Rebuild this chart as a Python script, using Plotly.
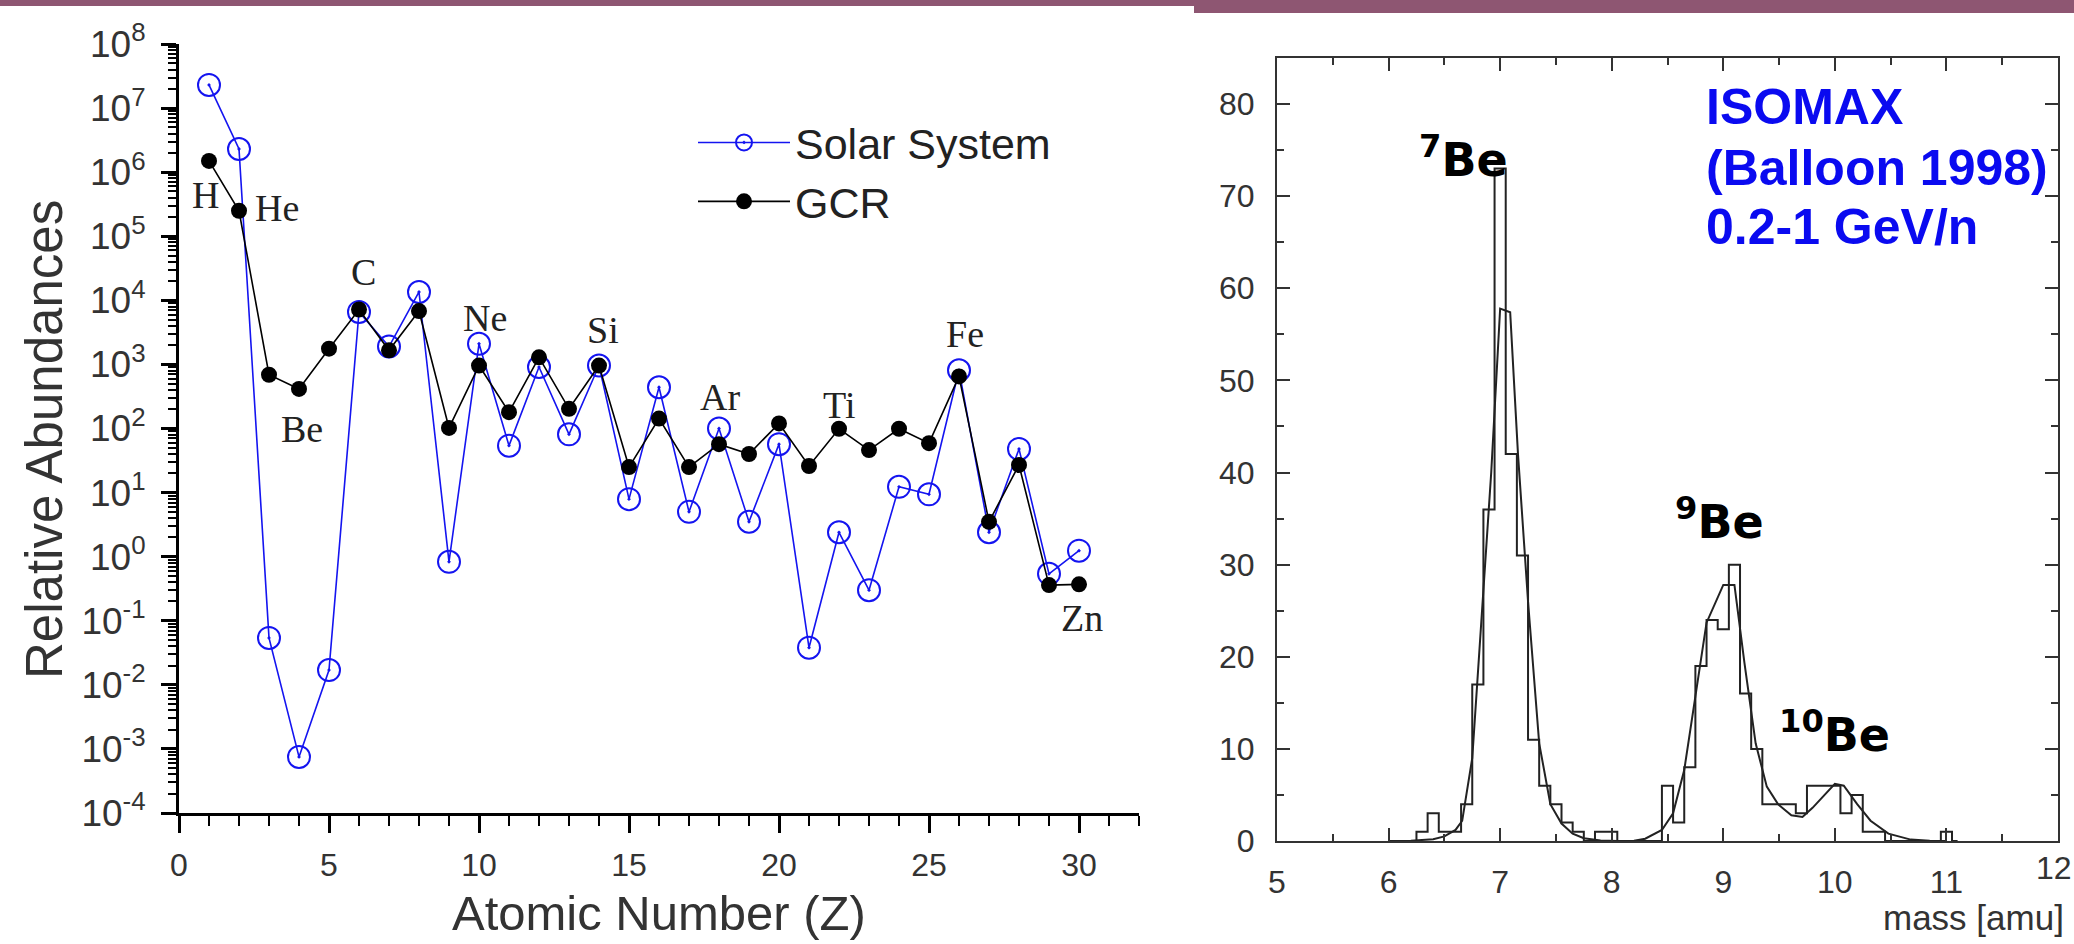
import plotly.graph_objects as go

W, H = 2074, 944

# ---------------- Left panel data ----------------
Z = list(range(1, 31))
solar = [2.3e7, 2.3e6, 0.054, 7.5e-4, 0.017, 6600, 1900, 13500, 0.83, 2100,
         54, 910, 81, 960, 7.9, 440, 5.0, 100, 3.5, 57,
         0.038, 2.4, 0.30, 12.3, 9.4, 810, 2.4, 48, 0.54, 1.24]
gcr = [1.5e6, 2.5e5, 690, 415, 1760, 7200, 1660, 6800, 102, 960,
       180, 1290, 203, 960, 25, 143, 25, 57, 40, 120,
       26, 99, 46, 99, 59, 650, 3.5, 27, 0.36, 0.37]
elem_names = ["H", "He", "Be", "C", "Ne", "Si", "Ar", "Ti", "Fe", "Zn"]
elem_z = [0.87, 3.26, 4.09, 6.14, 10.2, 14.12, 18.02, 22.0, 26.2, 30.1]
elem_log = [5.64, 5.44, 2.0, 4.44, 3.72, 3.53, 2.49, 2.36, 3.48, -0.95]
ytick_vals = [1e-4, 1e-3, 1e-2, 1e-1, 1, 10, 100, 1e3, 1e4, 1e5, 1e6, 1e7, 1e8]
ytick_text = ["10<sup>-4</sup>", "10<sup>-3</sup>", "10<sup>-2</sup>", "10<sup>-1</sup>",
              "10<sup>0</sup>", "10<sup>1</sup>", "10<sup>2</sup>", "10<sup>3</sup>",
              "10<sup>4</sup>", "10<sup>5</sup>", "10<sup>6</sup>", "10<sup>7</sup>",
              "10<sup>8</sup>"]
minor_vals = [m * v for v in ytick_vals[:-1] for m in range(2, 10)]

# ---------------- Right panel data ----------------
bin_centers = [6.2, 6.3, 6.4, 6.5, 6.6, 6.7, 6.8, 6.9, 7.0, 7.1, 7.2, 7.3, 7.4, 7.5,
               7.6, 7.7, 7.8, 7.9, 8.0, 8.1, 8.2, 8.3, 8.4, 8.5, 8.6, 8.7, 8.8, 8.9,
               9.0, 9.1, 9.2, 9.3, 9.4, 9.5, 9.6, 9.7, 9.8, 9.9, 10.0, 10.1, 10.2,
               10.3, 10.4, 10.5, 10.6, 10.7, 10.8, 10.9, 11.0, 11.1]
bin_counts = [0, 1, 3, 1, 1, 4, 17, 36, 73, 42, 31, 11, 6, 4,
              2, 1, 0, 1, 1, 0, 0, 0, 0, 6, 2, 8, 19, 24,
              23, 30, 16, 10, 4, 4, 4, 3, 6, 6, 6, 3, 5,
              1, 1, 0, 0, 0, 0, 0, 1, 0]
fit_x = [6.0, 6.2, 6.4, 6.5, 6.6, 6.66, 6.75, 6.85, 6.875, 6.92, 7.0, 7.09, 7.16,
         7.22, 7.25, 7.35, 7.45, 7.55, 7.65, 7.75, 7.9, 8.05, 8.2, 8.3, 8.45, 8.55,
         8.65, 8.75, 8.85, 9.0, 9.1, 9.19, 9.29, 9.39, 9.49, 9.61, 9.71, 9.8, 9.89,
         10.0, 10.08, 10.2, 10.32, 10.48, 10.68, 10.85, 11.0]
fit_y = [0, 0.02, 0.2, 0.5, 1.2, 2.2, 9, 27, 31.5, 40, 57.8, 57.4, 42,
         31.5, 26, 10.6, 4, 1.9, 0.8, 0.3, 0.05, 0, 0.02, 0.25, 1.2, 3,
         7.7, 15.7, 23.7, 27.8, 27.8, 19.3, 10.6, 5.9, 4, 2.8, 2.6, 3.6, 4.8,
         6.2, 6.0, 4, 2.2, 0.8, 0.15, 0.02, 0]
mass_ticks = [5, 6, 7, 8, 9, 10, 11]
mass_ticktext = ["5", "6", "7", "8", "9", "10", "11"]
last_mass_tick = "12"
iso_names = ["<b><sup>7</sup>Be</b>", "<b><sup>9</sup>Be</b>", "<b><sup>10</sup>Be</b>"]
iso_x = [6.67, 8.97, 10.0]
iso_y = [74.3, 35.0, 11.8]
info_lines = ["<b>ISOMAX</b>", "<b>(Balloon 1998)</b>", "<b>0.2-1 GeV/n</b>"]

BLUE = "#1414f0"
SANS = "Liberation Sans, Arial, sans-serif"
SERIF = "Liberation Serif, Times New Roman, serif"

fig = go.Figure()

fig.add_trace(go.Scatter(
    x=Z, y=solar, mode="lines+markers", name="Solar System",
    line=dict(color=BLUE, width=1.6),
    marker=dict(symbol="circle-open-dot", size=22, color=BLUE, line=dict(width=2, color=BLUE)),
    xaxis="x", yaxis="y"))
fig.add_trace(go.Scatter(
    x=Z, y=gcr, mode="lines+markers", name="GCR",
    line=dict(color="black", width=1.6),
    marker=dict(symbol="circle", size=16, color="black"),
    xaxis="x", yaxis="y"))

fig.add_trace(go.Scatter(
    x=bin_centers, y=bin_counts, mode="lines", line=dict(color="#222", width=2, shape="hvh"),
    showlegend=False, xaxis="x2", yaxis="y2"))
fig.add_trace(go.Scatter(
    x=fit_x, y=fit_y, mode="lines", line=dict(color="#222", width=2),
    showlegend=False, xaxis="x2", yaxis="y2"))

xl0, xl1 = 179 / W, 1139 / W
yl0, yl1 = 1 - 813 / H, 1 - 44 / H
xr0, xr1 = 1277 / W, 2058 / W
yr0, yr1 = 1 - 841 / H, 1 - 58 / H

tickfont_l = dict(family=SANS, size=32, color="#333")
tickfont_r = dict(family=SANS, size=32, color="#333")

fig.update_layout(
    width=W, height=H, margin=dict(l=0, r=0, t=0, b=0, autoexpand=False),
    paper_bgcolor="white", plot_bgcolor="white",
    showlegend=True,
    legend=dict(x=693 / W, y=1 - 108 / H, xanchor="left", yanchor="top",
                font=dict(family=SANS, size=43, color="#222"), itemwidth=92,
                bgcolor="rgba(0,0,0,0)", tracegroupgap=0),
    xaxis=dict(domain=[xl0, xl1], anchor="y", range=[0, 32], tick0=0, dtick=5,
               automargin=False,
               ticks="outside", ticklen=17, tickwidth=2.5, tickcolor="black",
               minor=dict(dtick=1, ticks="outside", ticklen=10, tickwidth=2, tickcolor="black"),
               showline=True, linewidth=3, linecolor="black", showgrid=False, zeroline=False,
               tickfont=tickfont_l, ticklabelstandoff=5),
    xaxis3=dict(overlaying="x", anchor="y", side="top", range=[0, 32], tick0=0, dtick=5,
                automargin=False,
                ticks="inside", ticklen=17, tickwidth=2.5, tickcolor="black",
                minor=dict(dtick=1, ticks="inside", ticklen=10, tickwidth=2, tickcolor="black"),
                showline=True, linewidth=3, linecolor="black", showgrid=False, zeroline=False,
                showticklabels=False),
    yaxis=dict(domain=[yl0, yl1], anchor="x", type="log", range=[-4, 8],
               automargin=False,
               tickmode="array", tickvals=ytick_vals, ticktext=ytick_text,
               ticks="outside", ticklen=15, tickwidth=2.5, tickcolor="black",
               minor=dict(tickmode="array", tickvals=minor_vals, ticks="outside", ticklen=8,
                          tickwidth=2, tickcolor="black"),
               showline=True, linewidth=3, linecolor="black", showgrid=False, zeroline=False,
               tickfont=dict(family=SANS, size=37, color="#333"), ticklabelstandoff=8),
    yaxis3=dict(overlaying="y", anchor="x", side="right", type="log", range=[-4, 8],
                automargin=False,
                tickmode="array", tickvals=ytick_vals,
                ticks="inside", ticklen=15, tickwidth=2.5, tickcolor="black",
                minor=dict(tickmode="array", tickvals=minor_vals, ticks="inside", ticklen=8,
                           tickwidth=2, tickcolor="black"),
                showline=True, linewidth=3, linecolor="black", showgrid=False, zeroline=False,
                showticklabels=False),
    xaxis2=dict(domain=[xr0, xr1], anchor="y2", range=[5, 12], automargin=False,
                tickmode="array", tickvals=mass_ticks, ticktext=mass_ticktext,
                ticks="inside", ticklen=13, tickwidth=2, tickcolor="#333", mirror="ticks",
                minor=dict(dtick=0.5, tick0=5, ticks="inside", ticklen=7, tickwidth=2,
                           tickcolor="#333"),
                showline=True, linewidth=2, linecolor="#333", showgrid=False, zeroline=False,
                tickfont=tickfont_r, ticklabelstandoff=12),
    yaxis2=dict(domain=[yr0, yr1], anchor="x2", range=[0, 85], tick0=0, dtick=10,
                automargin=False,
                ticks="inside", ticklen=13, tickwidth=2, tickcolor="#333", mirror="ticks",
                minor=dict(dtick=5, ticks="inside", ticklen=7, tickwidth=2, tickcolor="#333"),
                showline=True, linewidth=2, linecolor="#333", showgrid=False, zeroline=False,
                tickfont=tickfont_r, ticklabelstandoff=14),
)

annotations = []
for name, zx, ly in zip(elem_names, elem_z, elem_log):
    annotations.append(dict(x=zx, y=ly, xref="x", yref="y", text=name, showarrow=False,
                            font=dict(family=SERIF, size=38, color="#222")))
for name, ix, iy in zip(iso_names, iso_x, iso_y):
    annotations.append(dict(x=ix, y=iy, xref="x2", yref="y2", text=name, showarrow=False,
                            xanchor="center", yanchor="middle",
                            font=dict(family="DejaVu Sans", size=46, color="black")))
for line, yc in zip(info_lines, [107, 168, 227]):
    annotations.append(dict(x=1704 / W, y=1 - yc / H, xref="paper", yref="paper",
                            xanchor="left", yanchor="middle", text=line, showarrow=False,
                            font=dict(family=SANS, size=50, color="#0a0af0")))
annotations += [
    dict(x=2074 / W, y=1 - 868 / H, xref="paper", yref="paper", xanchor="right",
         yanchor="middle", text=last_mass_tick, showarrow=False,
         font=tickfont_r),
    dict(x=(179 + 1139) / 2 / W, y=1 - 913 / H, xref="paper", yref="paper",
         xanchor="center", yanchor="middle",
         text="Atomic Number (Z)", showarrow=False,
         font=dict(family=SANS, size=49, color="#333")),
    dict(x=44 / W, y=1 - 440 / H, xref="paper", yref="paper", textangle=-90,
         xanchor="center", yanchor="middle",
         text="Relative Abundances", showarrow=False,
         font=dict(family=SANS, size=51, color="#333")),
    dict(x=2066 / W, y=1 - 917 / H, xref="paper", yref="paper", xanchor="right",
         yanchor="middle", text="mass [amu]", showarrow=False,
         font=dict(family=SANS, size=35, color="#333")),
]
fig.update_layout(annotations=annotations)

BAR = "#8e5672"
fig.add_shape(type="rect", xref="paper", yref="paper", x0=0, x1=1194 / W, y0=1 - 6 / H, y1=1,
              fillcolor=BAR, line=dict(width=0), layer="above")
fig.add_shape(type="rect", xref="paper", yref="paper", x0=1194 / W, x1=1, y0=1 - 13 / H, y1=1,
              fillcolor=BAR, line=dict(width=0), layer="above")

fig.write_html("out.html")
